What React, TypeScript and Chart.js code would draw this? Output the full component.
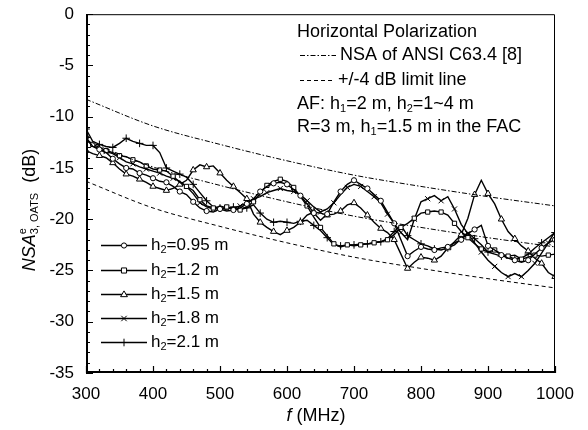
import React, { useEffect, useRef } from "react";
import { Chart, registerables } from "chart.js";

Chart.register(...registerables);

const freqs = [
  300, 310, 320, 330, 340, 350, 360, 370, 380, 390,
  400, 410, 420, 430, 440, 450, 460, 470, 480, 490,
  500, 510, 520, 530, 540, 550, 560, 570, 580, 590,
  600, 610, 620, 630, 640, 650, 660, 670, 680, 690,
  700, 710, 720, 730, 740, 750, 760, 770, 780, 790,
  800, 810, 820, 830, 840, 850, 860, 870, 880, 890,
  900, 910, 920, 930, 940, 950, 960, 970, 980, 990,
  1000,
];

const h095 = [
  -12.0, -12.9, -13.2, -13.5, -14.1, -14.6, -15.0, -15.1, -15.5, -15.7,
  -16.0, -16.3, -16.4, -16.8, -17.3, -17.6, -18.3, -18.9, -19.2, -19.3,
  -19.0, -19.2, -19.1, -18.9, -18.5, -18.0, -17.3, -16.8, -16.5, -16.4,
  -16.6, -17.1, -17.7, -18.5, -19.4, -20.1, -19.5, -18.3, -17.3, -16.6,
  -16.2, -16.6, -17.0, -17.6, -18.2, -19.3, -20.4, -22.0, -23.6, -23.1,
  -22.7, -22.9, -23.0, -22.8, -22.7, -22.3, -22.0, -21.4, -21.0, -20.6,
  -22.6, -23.0, -23.5, -23.8, -24.0, -24.2, -24.0, -23.4, -22.8, -22.3,
  -22.0,
];

const h12 = [
  -12.3, -12.7, -13.0, -13.3, -13.5, -13.8, -13.9, -14.2, -14.4, -14.8,
  -15.1, -15.2, -15.3, -15.8, -16.4, -16.8, -17.2, -18.1, -18.7, -18.9,
  -19.1, -18.8, -19.0, -19.1, -18.8, -18.3, -17.5, -16.7, -16.3, -16.1,
  -16.3, -16.9, -17.8, -18.7, -19.8, -20.8, -21.6, -22.4, -22.7, -22.5,
  -22.6, -22.5, -22.4, -22.3, -22.2, -22.0, -21.5, -20.8, -20.4, -19.9,
  -19.4, -19.3, -19.2, -19.3, -19.6, -20.4, -21.2, -21.8, -22.4, -22.9,
  -23.2, -23.0, -23.4, -23.6, -23.5, -23.9, -23.7, -23.5, -23.6, -23.5,
  -23.4,
];

const h15 = [
  -13.3, -13.6, -13.8, -14.0, -14.5, -15.1, -15.6, -15.8, -16.1, -16.4,
  -16.8, -17.0, -17.2, -17.0, -16.6, -16.2, -15.2, -14.7, -14.9, -14.8,
  -15.5, -16.2, -16.8, -17.4, -18.0, -19.5, -20.3, -20.8, -21.2, -21.5,
  -21.1, -20.8, -20.3, -19.6, -19.3, -19.4, -19.6, -19.5, -19.2, -18.6,
  -18.4, -18.9, -19.6, -20.3, -20.9, -21.3, -22.0, -23.4, -24.8, -24.2,
  -23.7, -23.8, -24.0, -23.6, -22.8, -22.2, -21.5, -19.9, -17.6, -16.2,
  -17.5, -18.5, -20.0, -21.2, -21.9, -22.6, -23.1, -23.8, -24.3, -25.2,
  -25.6,
];

const h18 = [
  -12.2, -12.8, -13.2, -13.4, -13.6, -14.0, -14.4, -14.6, -14.9, -15.1,
  -15.3, -15.5, -15.8, -16.0, -16.3, -16.8, -17.5, -18.4, -18.8, -19.0,
  -18.7, -18.9, -18.9, -18.7, -18.4, -18.0, -17.8, -17.4, -17.2, -17.0,
  -17.2, -17.3, -17.6, -18.2, -18.8, -19.3, -19.0, -18.4, -17.6, -16.9,
  -16.6, -16.8, -17.3, -17.8, -18.4, -19.5, -20.4, -21.3, -22.0, -20.0,
  -18.3, -18.0, -17.7, -18.2, -17.8, -19.0, -20.5, -21.4, -22.3, -23.2,
  -24.0, -24.6, -25.2, -25.6, -25.3, -25.6, -25.0, -24.3, -23.3, -22.3,
  -21.2,
];

const h21 = [
  -11.2, -12.4, -12.7, -12.9, -13.0, -12.6, -12.1, -12.4, -12.6, -12.8,
  -12.8, -13.5, -15.0, -15.3, -15.6, -15.9, -16.6, -17.4, -18.2, -18.8,
  -18.9, -19.0, -18.8, -19.0, -18.9, -18.6, -19.4, -20.0, -20.3, -20.2,
  -20.3, -20.4, -20.2, -20.1, -20.6, -21.1, -21.8, -22.5, -22.6, -22.5,
  -22.5, -22.4, -22.4, -22.3, -22.2, -21.9, -21.2, -20.6, -21.6, -22.0,
  -22.4, -22.6, -22.9, -23.0, -22.8, -22.5, -21.9, -21.3, -21.9, -22.5,
  -23.2, -23.4, -23.6, -23.6, -23.9, -23.8, -23.4, -22.8, -22.3, -21.8,
  -21.3,
];

// ANSI C63.4 NSA reference (horizontal, 3 m) and the +/-4 dB limits
const refFreqs = [300, 400, 500, 600, 700, 800, 900, 1000];
const nsaRef = [-12.3, -14.9, -16.7, -18.3, -19.7, -20.8, -21.8, -22.7];
const nsaUpper = [-8.3, -10.9, -12.7, -14.3, -15.7, -16.8, -17.8, -18.7];
const nsaLower = [-16.3, -18.9, -20.7, -22.3, -23.7, -24.8, -25.8, -26.7];

const seriesLabels = ["0.95", "1.2", "1.5", "1.8", "2.1"];
const seriesValues = [h095, h12, h15, h18, h21];
const seriesStyles = ["circle", "rect", "triangle", "crossRot", "cross"];
const seriesRadius = [2.6, 3, 3.6, 3.6, 3.8];
const seriesOffset = [0, 1, 0, 1, 0];

const xTicks = [300, 400, 500, 600, 700, 800, 900, 1000];
const yTicks = [0, -5, -10, -15, -20, -25, -30, -35];

const FONT = '"Liberation Sans", Arial, Helvetica, sans-serif';
const DASHDOT = [5, 2, 1.5, 2];
const DASHED = [4, 3];

type Seg = { t: string; sub?: boolean; sup?: boolean; italic?: boolean; noAdvance?: boolean };

function richWidth(ctx: CanvasRenderingContext2D, segs: Seg[], size: number) {
  let w = 0;
  for (const s of segs) {
    const fs = s.sub || s.sup ? Math.round(size * 0.62) : size;
    ctx.font = `${s.italic ? "italic " : ""}${fs}px ${FONT}`;
    if (!s.noAdvance) w += ctx.measureText(s.t).width;
  }
  return w;
}

function drawRich(ctx: CanvasRenderingContext2D, x: number, y: number, segs: Seg[], size: number) {
  let cx = x;
  ctx.textAlign = "left";
  ctx.textBaseline = "middle";
  for (const s of segs) {
    const fs = s.sub || s.sup ? Math.round(size * 0.62) : size;
    ctx.font = `${s.italic ? "italic " : ""}${fs}px ${FONT}`;
    const dy = s.sub ? size * 0.3 : s.sup ? -size * 0.38 : 0;
    ctx.fillText(s.t, cx, y + dy);
    if (!s.noAdvance) cx += ctx.measureText(s.t).width;
  }
}

function drawMarker(ctx: CanvasRenderingContext2D, style: string, x: number, y: number, r: number) {
  ctx.save();
  ctx.setLineDash([]);
  ctx.lineWidth = 1;
  ctx.strokeStyle = "#000";
  ctx.fillStyle = "#fff";
  ctx.beginPath();
  if (style === "circle") {
    ctx.arc(x, y, r, 0, Math.PI * 2);
    ctx.fill();
    ctx.stroke();
  } else if (style === "rect") {
    const s = r * 0.85;
    ctx.rect(x - s, y - s, 2 * s, 2 * s);
    ctx.fill();
    ctx.stroke();
  } else if (style === "triangle") {
    ctx.moveTo(x, y - r);
    ctx.lineTo(x + r * 0.95, y + r * 0.6);
    ctx.lineTo(x - r * 0.95, y + r * 0.6);
    ctx.closePath();
    ctx.fill();
    ctx.stroke();
  } else if (style === "crossRot") {
    const s = r * 0.75;
    ctx.moveTo(x - s, y - s);
    ctx.lineTo(x + s, y + s);
    ctx.moveTo(x + s, y - s);
    ctx.lineTo(x - s, y + s);
    ctx.stroke();
  } else {
    ctx.moveTo(x - r, y);
    ctx.lineTo(x + r, y);
    ctx.moveTo(x, y - r);
    ctx.lineTo(x, y + r);
    ctx.stroke();
  }
  ctx.restore();
}

const annotate = {
  id: "annotate",
  afterDraw(chart: any) {
    const ctx: CanvasRenderingContext2D = chart.ctx;
    const { left, right, top, bottom } = chart.chartArea;
    const xs = chart.scales.x;
    const ys = chart.scales.y;
    ctx.save();
    ctx.strokeStyle = "#000";
    ctx.fillStyle = "#000";
    ctx.setLineDash([]);
    // frame top/right
    ctx.lineWidth = 1;
    ctx.beginPath();
    ctx.moveTo(left, top + 0.5);
    ctx.lineTo(right - 0.5, top + 0.5);
    ctx.lineTo(right - 0.5, bottom);
    ctx.stroke();
    // left/bottom axes
    ctx.lineWidth = 2;
    ctx.beginPath();
    ctx.moveTo(left + 1, top);
    ctx.lineTo(left + 1, bottom - 1);
    ctx.lineTo(right, bottom - 1);
    ctx.stroke();
    // inward ticks
    ctx.lineWidth = 1.2;
    ctx.beginPath();
    for (let v = xs.min; v <= xs.max; v += 20) {
      const px = Math.round(xs.getPixelForValue(v)) + 0.5;
      const len = v % 100 === 0 ? 7 : 4;
      ctx.moveTo(px, bottom);
      ctx.lineTo(px, bottom - len);
    }
    for (let v = ys.max; v >= ys.min; v -= 1) {
      const py = Math.round(ys.getPixelForValue(v)) + 0.5;
      const len = v % 5 === 0 ? 7 : 4;
      ctx.moveTo(left, py);
      ctx.lineTo(left + len, py);
    }
    ctx.stroke();

    // top-right annotation
    const size = 18;
    const tx = 297;
    drawRich(ctx, tx, 32, [{ t: "Horizontal Polarization" }], size);
    ctx.lineWidth = 1;
    ctx.setLineDash(DASHDOT);
    ctx.beginPath();
    ctx.moveTo(300, 55.5);
    ctx.lineTo(336, 55.5);
    ctx.stroke();
    ctx.setLineDash(DASHED);
    ctx.beginPath();
    ctx.moveTo(300, 80.5);
    ctx.lineTo(334, 80.5);
    ctx.stroke();
    ctx.setLineDash([]);
    drawRich(ctx, 340, 55, [{ t: "NSA of ANSI C63.4 [8]" }], size);
    drawRich(ctx, 338, 80, [{ t: "+/-4 dB limit line" }], size);
    drawRich(
      ctx,
      tx,
      104,
      [{ t: "AF: h" }, { t: "1", sub: true }, { t: "=2 m, h" }, { t: "2", sub: true }, { t: "=1~4 m" }],
      size
    );
    drawRich(
      ctx,
      tx,
      127,
      [{ t: "R=3 m, h" }, { t: "1", sub: true }, { t: "=1.5 m in the FAC" }],
      size
    );

    // bottom-left legend
    const rows = [245, 270, 294, 318, 342];
    seriesLabels.forEach((lab, i) => {
      const y = rows[i];
      ctx.lineWidth = 1.4;
      ctx.beginPath();
      ctx.moveTo(101, y + 0.5);
      ctx.lineTo(147, y + 0.5);
      ctx.stroke();
      drawMarker(ctx, seriesStyles[i], 124, y + 0.5, seriesRadius[i]);
      ctx.fillStyle = "#000";
      drawRich(ctx, 151, y, [{ t: "h" }, { t: "2", sub: true }, { t: "=" + lab + " m" }], 17);
    });

    // x title
    const xt: Seg[] = [{ t: "f", italic: true }, { t: " (MHz)" }];
    const xw = richWidth(ctx, xt, 18);
    drawRich(ctx, 316 - xw / 2, 416, xt, 18);

    // y title (rotated)
    const yt: Seg[] = [
      { t: "NSA", italic: true },
      { t: "e", sup: true, noAdvance: true },
      { t: "3, OATS", sub: true },
      { t: "  (dB)" },
    ];
    const yw = richWidth(ctx, yt, 18);
    ctx.save();
    ctx.translate(30, 210);
    ctx.rotate(-Math.PI / 2);
    drawRich(ctx, -yw / 2, 0, yt, 18);
    ctx.restore();
    ctx.restore();
  },
};

export default function App() {
  const ref = useRef<HTMLCanvasElement | null>(null);
  useEffect(() => {
    document.body.style.margin = "0";
    const canvas = ref.current;
    if (!canvas) return;
    const line = (vals: number[], fx: number[]) => vals.map((v, i) => ({ x: fx[i], y: v }));
    const datasets: any[] = [
      {
        label: "upper",
        data: line(nsaUpper, refFreqs),
        borderColor: "#000",
        borderWidth: 1,
        borderDash: DASHDOT,
        pointRadius: 0,
        cubicInterpolationMode: "monotone",
      },
      {
        label: "nsa",
        data: line(nsaRef, refFreqs),
        borderColor: "#000",
        borderWidth: 1,
        borderDash: DASHDOT,
        pointRadius: 0,
        cubicInterpolationMode: "monotone",
      },
      {
        label: "lower",
        data: line(nsaLower, refFreqs),
        borderColor: "#000",
        borderWidth: 1,
        borderDash: DASHED,
        pointRadius: 0,
        cubicInterpolationMode: "monotone",
      },
    ];
    seriesValues.forEach((vals, i) => {
      datasets.push({
        label: "h2=" + seriesLabels[i] + " m",
        data: line(vals, freqs),
        borderColor: "#000",
        borderWidth: 1.4,
        pointStyle: seriesStyles[i],
        pointRadius: (c: any) => (c.dataIndex % 2 === seriesOffset[i] ? seriesRadius[i] : 0),
        pointBackgroundColor: "#fff",
        pointBorderColor: "#000",
        pointBorderWidth: 1,
        tension: 0,
      });
    });
    const chart = new Chart(canvas, {
      type: "line",
      data: { datasets },
      options: {
        animation: false,
        responsive: false,
        devicePixelRatio: 1,
        layout: { padding: { top: 13, right: 33, left: 0, bottom: 0 } },
        plugins: { legend: { display: false }, tooltip: { enabled: false } },
        scales: {
          x: {
            type: "linear",
            min: 300,
            max: 1000,
            afterFit: (s: any) => {
              s.height = 57;
            },
            afterBuildTicks: (s: any) => {
              s.ticks = xTicks.map((v) => ({ value: v }));
            },
            ticks: {
              color: "#000",
              font: { family: FONT, size: 17 },
              padding: 3,
              maxRotation: 0,
              callback: (v: any) => String(v),
            },
            grid: { display: false },
            border: { display: false },
          },
          y: {
            type: "linear",
            min: -35,
            max: 0,
            afterFit: (s: any) => {
              s.width = 86;
            },
            afterBuildTicks: (s: any) => {
              s.ticks = yTicks.map((v) => ({ value: v }));
            },
            ticks: {
              color: "#000",
              font: { family: FONT, size: 17 },
              padding: 4,
              callback: (v: any) => String(v),
            },
            grid: { display: false },
            border: { display: false },
          },
        },
      },
      plugins: [annotate],
    });
    return () => chart.destroy();
  }, []);
  return <canvas ref={ref} width={588} height={430} style={{ display: "block" }} />;
}
